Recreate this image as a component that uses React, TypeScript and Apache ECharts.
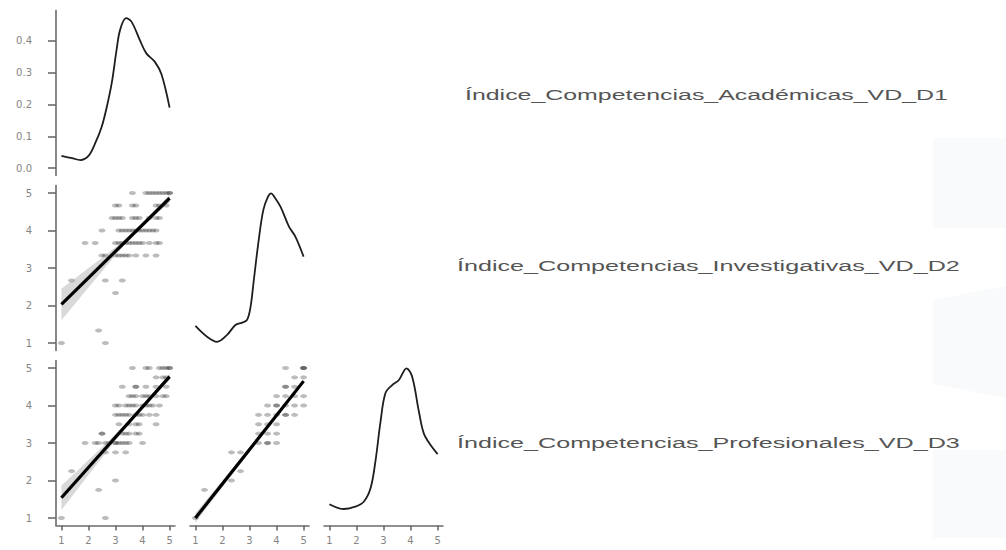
import React, { useEffect, useRef } from 'react';
import * as echarts from 'echarts';

// ---------- data ----------
const varLabels = [
  'Índice_Competencias_Académicas_VD_D1',
  'Índice_Competencias_Investigativas_VD_D2',
  'Índice_Competencias_Profesionales_VD_D3',
];
const scaleTicks = [1, 2, 3, 4, 5];
const densityTicks = [0, 0.1, 0.2, 0.3, 0.4];

// kernel density estimates (diagonal panels)
const densD1X = [1.0, 1.39, 1.7, 2.0, 2.25, 2.49, 2.68, 2.86, 3.04, 3.17, 3.39, 3.59, 3.9, 4.14, 4.45, 4.7, 5.0];
const densD1Y = [0.038, 0.031, 0.025, 0.038, 0.078, 0.13, 0.193, 0.267, 0.372, 0.435, 0.472, 0.461, 0.403, 0.361, 0.335, 0.295, 0.19];

const densD2X = [1.0, 1.43, 1.8, 2.17, 2.48, 2.73, 2.91, 3.04, 3.16, 3.34, 3.51, 3.68, 3.8, 3.92, 4.15, 4.46, 4.7, 5.0];
const densD2Y = [0.082, 0.046, 0.029, 0.052, 0.085, 0.093, 0.102, 0.146, 0.235, 0.368, 0.468, 0.512, 0.524, 0.512, 0.479, 0.413, 0.379, 0.313];

const densD3X = [1.0, 1.53, 1.96, 2.27, 2.52, 2.7, 2.89, 3.07, 3.32, 3.57, 3.85, 4.06, 4.31, 4.49, 4.74, 5.0];
const densD3Y = [0.071, 0.055, 0.063, 0.079, 0.124, 0.213, 0.346, 0.441, 0.468, 0.485, 0.524, 0.496, 0.379, 0.307, 0.268, 0.238];

// scatter: D1 (x) vs D2 (y)
const scatterD1D2: number[][] = [
  [3.625, 5], [4.125, 5], [4.25, 5], [4.375, 5], [4.5, 5], [4.625, 5], [4.75, 5], [4.875, 5], [5, 5], [5, 5],
  [3.0, 4.667], [3.125, 4.667], [3.625, 4.667], [3.75, 4.667], [4.5, 4.667], [4.625, 4.667], [4.875, 4.667],
  [2.875, 4.333], [3.0, 4.333], [3.125, 4.333], [3.25, 4.333], [3.625, 4.333], [3.75, 4.333], [3.875, 4.333], [4.25, 4.333], [4.5, 4.333], [4.625, 4.333],
  [2.5, 4], [3.125, 4], [3.25, 4], [3.375, 4], [3.5, 4], [3.625, 4], [3.75, 4], [3.875, 4], [4.0, 4], [4.125, 4], [4.25, 4], [4.375, 4], [4.5, 4],
  [1.875, 3.667], [2.25, 3.667], [3.0, 3.667], [3.125, 3.667], [3.25, 3.667], [3.375, 3.667], [3.5, 3.667], [3.625, 3.667], [3.75, 3.667], [3.875, 3.667], [4.0, 3.667], [4.25, 3.667], [4.5, 3.667], [4.625, 3.667],
  [2.5, 3.333], [2.625, 3.333], [3.0, 3.333], [3.125, 3.333], [3.25, 3.333], [3.375, 3.333], [3.5, 3.333], [3.75, 3.333], [4.125, 3.333], [4.5, 3.333],
  [1.375, 2.667], [2.625, 2.667], [3.25, 2.667],
  [3.0, 2.333],
  [2.375, 1.333],
  [1.0, 1], [2.625, 1],
];

// scatter: D1 (x) vs D3 (y)
const scatterD1D3: number[][] = [
  [3.625, 5], [4.125, 5], [4.25, 5], [4.625, 5], [4.75, 5], [4.875, 5], [5, 5], [5, 5],
  [4.5, 4.75], [4.75, 4.75], [4.875, 4.75],
  [3.25, 4.5], [3.75, 4.5], [3.75, 4.5], [4.125, 4.5], [4.5, 4.5], [4.875, 4.5],
  [3.5, 4.25], [3.625, 4.25], [3.75, 4.25], [4.0, 4.25], [4.125, 4.25], [4.25, 4.25], [4.5, 4.25], [4.75, 4.25], [4.875, 4.25],
  [3.0, 4], [3.125, 4], [3.375, 4], [3.5, 4], [3.625, 4], [3.75, 4], [4.0, 4], [4.125, 4], [4.25, 4], [4.375, 4], [4.625, 4],
  [3.0, 3.75], [3.125, 3.75], [3.25, 3.75], [3.375, 3.75], [3.5, 3.75], [3.75, 3.75], [3.875, 3.75], [4.0, 3.75], [4.25, 3.75], [4.5, 3.75],
  [3.125, 3.5], [3.5, 3.5], [3.75, 3.5], [3.875, 3.5], [4.5, 3.5],
  [2.5, 3.25], [2.5, 3.25], [3.25, 3.25], [3.375, 3.25], [3.5, 3.25], [3.75, 3.25], [3.875, 3.25],
  [1.875, 3], [2.25, 3], [2.375, 3], [2.625, 3], [2.75, 3], [3.0, 3], [3.0, 3], [3.125, 3], [3.25, 3], [3.375, 3], [3.5, 3], [4.0, 3],
  [2.625, 2.75], [3.0, 2.75], [3.375, 2.75],
  [1.375, 2.25],
  [3.0, 2.0],
  [2.375, 1.75],
  [1.0, 1], [2.625, 1],
];

// scatter: D2 (x) vs D3 (y)
const scatterD2D3: number[][] = [
  [4.333, 5], [5, 5], [5, 5], [5, 5],
  [4.667, 4.75], [5, 4.75],
  [4.333, 4.5], [4.333, 4.5], [4.667, 4.5],
  [4, 4.25], [4.333, 4.25], [4.667, 4.25], [5, 4.25],
  [3.667, 4], [4, 4], [4, 4], [4.333, 4], [4.667, 4], [5, 4],
  [3.333, 3.75], [3.667, 3.75], [4, 3.75], [4.333, 3.75], [4.333, 3.75], [4.667, 3.75],
  [3.333, 3.5], [3.667, 3.5], [4, 3.5],
  [3.333, 3.25], [3.667, 3.25], [4, 3.25],
  [3.333, 3], [3.667, 3], [3.667, 3], [4, 3],
  [2.333, 2.75], [2.667, 2.75],
  [2.667, 2.25],
  [2.333, 2.0],
  [1.333, 1.75],
  [1.0, 1.0],
];

// linear fits and 95% confidence bands
const fitD1D2 = [[1, 2.03], [5, 4.86]];
const fitD1D3 = [[1, 1.54], [5, 4.77]];
const fitD2D3 = [[1, 1.0], [5, 4.65]];

const bandX = [1, 1.5, 2, 2.5, 3, 3.5, 4, 4.5, 5];
const bandD1D2Lo = [1.61, 2.04, 2.48, 2.91, 3.34, 3.74, 4.10, 4.44, 4.75];
const bandD1D2Hi = [2.45, 2.72, 3.00, 3.27, 3.56, 3.86, 4.20, 4.58, 4.97];
const bandD1D3Lo = [1.21, 1.68, 2.15, 2.61, 3.08, 3.51, 3.92, 4.31, 4.68];
const bandD1D3Hi = [1.87, 2.20, 2.55, 2.89, 3.24, 3.61, 4.00, 4.43, 4.86];
const bandD2D3Lo = [0.87, 1.35, 1.82, 2.30, 2.78, 3.24, 3.71, 4.15, 4.58];
const bandD2D3Hi = [1.13, 1.57, 2.00, 2.44, 2.88, 3.32, 3.77, 4.23, 4.72];

// ---------- layout ----------
const ROW_TOP = [10.5, 185.5, 360.5];
const COL_LEFT = [56, 190, 324];
const PANEL_W = 119;
const PANEL_H = 165;

const AXIS_COLOR = '#6b6b6b';
const LABEL_COLOR = '#858585';

export default function App() {
  const ref = useRef<HTMLDivElement>(null);

  useEffect(() => {
    if (!ref.current) return;
    const chart = echarts.init(ref.current, undefined, { renderer: 'svg' });

    const panels: { r: number; c: number; kind: string }[] = [
      { r: 0, c: 0, kind: 'dens1' },
      { r: 1, c: 0, kind: 'sc' },
      { r: 1, c: 1, kind: 'dens' },
      { r: 2, c: 0, kind: 'sc' },
      { r: 2, c: 1, kind: 'sc' },
      { r: 2, c: 2, kind: 'dens' },
    ];

    const grid = panels.map((p) => ({
      left: COL_LEFT[p.c],
      top: ROW_TOP[p.r],
      width: PANEL_W,
      height: PANEL_H,
    }));

    const xAxis = panels.map((p, i) => ({
      type: 'value',
      gridIndex: i,
      min: 0.8,
      max: 5.2,
      show: p.r === 2,
      splitLine: { show: false },
      axisLine: { show: true, onZero: false, lineStyle: { color: AXIS_COLOR, width: 1.6 } },
      axisTick: { show: true, length: 5, customValues: scaleTicks, lineStyle: { color: AXIS_COLOR, width: 1.6 } },
      axisLabel: {
        customValues: scaleTicks,
        color: LABEL_COLOR,
        fontSize: 10,
        fontFamily: 'DejaVu Sans',
        margin: 10,
      },
    }));

    const yAxis = panels.map((p, i) => {
      const isD1 = p.kind === 'dens1';
      const isDens = p.kind === 'dens';
      const ticks = isD1 ? densityTicks : scaleTicks;
      return {
        type: 'value',
        gridIndex: i,
        min: isD1 ? -0.0236 : isDens ? 0 : 0.8,
        max: isD1 ? 0.496 : isDens ? 0.55 : 5.2,
        show: p.c === 0,
        splitLine: { show: false },
        axisLine: { show: true, onZero: false, lineStyle: { color: AXIS_COLOR, width: 1.6 } },
        axisTick: { show: true, length: 8, customValues: ticks, lineStyle: { color: AXIS_COLOR, width: 1.6 } },
        axisLabel: {
          customValues: ticks,
          color: LABEL_COLOR,
          fontSize: 10,
          fontFamily: 'DejaVu Sans',
          margin: 24,
          formatter: (v: number) => (isD1 ? v.toFixed(1) : String(v)),
        },
      };
    });

    const densLine = (idx: number, xs: number[], ys: number[]) => ({
      type: 'line',
      xAxisIndex: idx,
      yAxisIndex: idx,
      data: xs.map((x, i) => [x, ys[i]]),
      smooth: 0.35,
      symbol: 'none',
      lineStyle: { color: '#1e1e1e', width: 1.8 },
      silent: true,
      z: 3,
    });

    const scatter = (idx: number, pts: number[][]) => ({
      type: 'scatter',
      xAxisIndex: idx,
      yAxisIndex: idx,
      data: pts,
      symbol: 'circle',
      symbolSize: [7, 4],
      itemStyle: { color: 'rgba(0,0,0,0.33)' },
      silent: true,
      z: 2,
    });

    const band = (idx: number, xs: number[], lo: number[], hi: number[]) => ({
      type: 'custom',
      xAxisIndex: idx,
      yAxisIndex: idx,
      data: xs.map((x, i) => [x, lo[i], hi[i]]),
      encode: { x: 0, y: [1, 2] },
      silent: true,
      z: 3,
      renderItem: (params: any, api: any) => {
        if (params.dataIndex !== 0) return null;
        const pts: number[][] = [];
        xs.forEach((x, i) => pts.push(api.coord([x, hi[i]])));
        for (let i = xs.length - 1; i >= 0; i--) pts.push(api.coord([xs[i], lo[i]]));
        return {
          type: 'polygon',
          shape: { points: pts },
          style: { fill: 'rgba(160,160,160,0.4)' },
        };
      },
    });

    const fit = (idx: number, pts: number[][]) => ({
      type: 'line',
      xAxisIndex: idx,
      yAxisIndex: idx,
      data: pts,
      symbol: 'none',
      lineStyle: { color: '#000', width: 3.2 },
      silent: true,
      z: 4,
    });

    const measure = (t: string, font: string) => {
      const cv = document.createElement('canvas');
      const ctx = cv.getContext('2d');
      if (!ctx) return 300;
      ctx.font = font;
      return ctx.measureText(t).width || 300;
    };
    const LABEL_FONT = '15px "Liberation Sans"';
    const labelPos = [
      { x: 465, y: 95, w: 483 },
      { x: 457, y: 266, w: 503 },
      { x: 457, y: 443, w: 503 },
    ];
    const labelGraphics = varLabels.map((t, i) => ({
      type: 'text',
      x: labelPos[i].x,
      y: labelPos[i].y,
      scaleX: labelPos[i].w / measure(t, LABEL_FONT),
      silent: true,
      style: {
        text: t,
        font: LABEL_FONT,
        fill: '#555555',
        textVerticalAlign: 'middle',
        verticalAlign: 'middle',
      },
    }));

    const faint = [
      { type: 'rect', shape: { x: 933, y: 138, width: 73, height: 90 }, style: { fill: '#f9fafb' }, silent: true, z: -1 },
      { type: 'polygon', shape: { points: [[933, 300], [1006, 286], [1006, 398], [933, 384]] }, style: { fill: '#f9fafb' }, silent: true, z: -1 },
      { type: 'rect', shape: { x: 933, y: 450, width: 73, height: 88 }, style: { fill: '#f9fafb' }, silent: true, z: -1 },
    ];

    chart.setOption({
      animation: false,
      backgroundColor: '#ffffff',
      grid,
      xAxis,
      yAxis,
      graphic: [...faint, ...labelGraphics],
      series: [
        densLine(0, densD1X, densD1Y),
        band(1, bandX, bandD1D2Lo, bandD1D2Hi),
        scatter(1, scatterD1D2),
        fit(1, fitD1D2),
        densLine(2, densD2X, densD2Y),
        band(3, bandX, bandD1D3Lo, bandD1D3Hi),
        scatter(3, scatterD1D3),
        fit(3, fitD1D3),
        band(4, bandX, bandD2D3Lo, bandD2D3Hi),
        scatter(4, scatterD2D3),
        fit(4, fitD2D3),
        densLine(5, densD3X, densD3Y),
      ],
    });

    return () => chart.dispose();
  }, []);

  return (
    <div
      ref={ref}
      style={{ position: 'absolute', left: 0, top: 0, width: 1006, height: 550, background: '#fff' }}
    />
  );
}
